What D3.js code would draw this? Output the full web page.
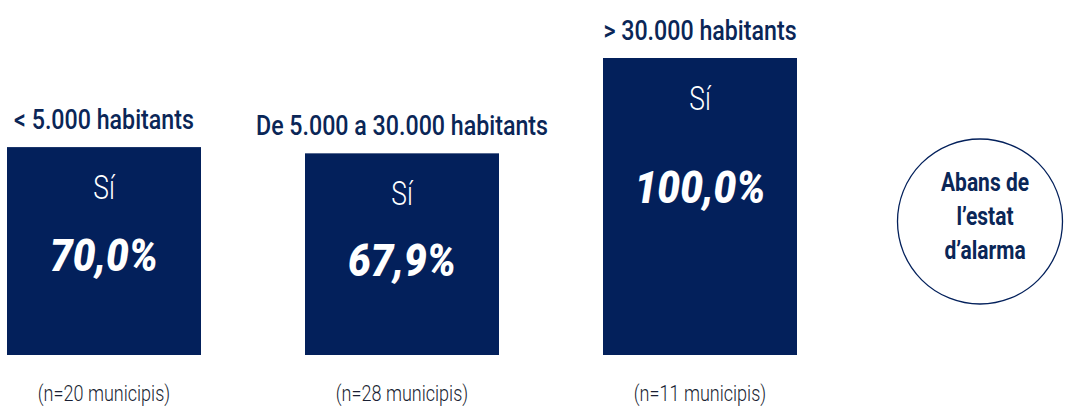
<!DOCTYPE html>
<html>
<head>
<meta charset="utf-8">
<script src="https://cdn.jsdelivr.net/npm/d3@7"></script>
<style>
  html, body { margin: 0; padding: 0; background: #ffffff; }
  svg { display: block; }
  text { font-family: Roboto, "Noto Sans", sans-serif; }
</style>
</head>
<body>
<svg id="chart" width="1065" height="406"></svg>
<script>
// Municipalities that answered "Sí", by population size
const categories = ["< 5.000 habitants", "De 5.000 a 30.000 habitants", "> 30.000 habitants"];
const answer = ["Sí", "Sí", "Sí"];
const values = [70.0, 67.9, 100.0];
const sampleNotes = ["(n=20 municipis)", "(n=28 municipis)", "(n=11 municipis)"];
const badgeLines = ["Abans de", "l\u2019estat", "d\u2019alarma"];

const navy = "#03205b";
const titleColor = "#0a2657";
const noteColor = "#1a1f33";

const svg = d3.select("#chart");

const x = d3.scaleBand()
  .domain(categories)
  .range([7, 797])
  .paddingInner(0.349)
  .paddingOuter(0);

const y = d3.scaleLinear()
  .domain([0, 100])
  .range([355, 58]);

const fmt = v => d3.format(".1f")(v).replace(".", ",") + "%";

// condensed text helper: positions a group, squeezes it horizontally
function ctext(sel, cx, cy, txt, opts) {
  const g = sel.append("g")
    .attr("transform", `translate(${cx},${cy}) scale(${opts.scale},1)`);
  g.append("text")
    .attr("text-anchor", "middle")
    .attr("font-size", opts.size)
    .attr("font-weight", opts.weight || 400)
    .attr("font-style", opts.style || "normal")
    .attr("fill", opts.fill)
    .text(txt);
  return g;
}

const data = categories.map((c, i) => ({ c, v: values[i], a: answer[i], n: sampleNotes[i] }));

const bars = svg.selectAll("g.bar")
  .data(data)
  .join("g")
  .attr("class", "bar");

bars.append("rect")
  .attr("x", d => x(d.c))
  .attr("y", d => y(d.v))
  .attr("width", x.bandwidth())
  .attr("height", d => y(0) - y(d.v))
  .attr("fill", navy);

bars.each(function (d) {
  const g = d3.select(this);
  const cx = x(d.c) + x.bandwidth() / 2;
  const top = y(d.v);
  const h = y(0) - top;
  ctext(g, cx, top - 18, d.c, { size: 27, weight: 500, fill: titleColor, scale: 0.86 });
  ctext(g, cx, top + 52, d.a, { size: 33, weight: 300, fill: "#ffffff", scale: 0.8 });
  ctext(g, cx, top + 74 + 0.24 * h, fmt(d.v), { size: 45, weight: 900, style: "italic", fill: "#ffffff", scale: 0.9 });
  ctext(g, cx, 401, d.n, { size: 22, weight: 300, fill: noteColor, scale: 0.82 });
});

// badge on the right
const badge = svg.append("g");
badge.append("circle")
  .attr("cx", 980)
  .attr("cy", 221.5)
  .attr("r", 82.5)
  .attr("fill", "#ffffff")
  .attr("stroke", navy)
  .attr("stroke-width", 1.3);

badgeLines.forEach((t, i) => {
  ctext(badge, 985, 191 + i * 34, t, { size: 25, weight: 700, fill: titleColor, scale: 0.84 });
});
</script>
</body>
</html>
